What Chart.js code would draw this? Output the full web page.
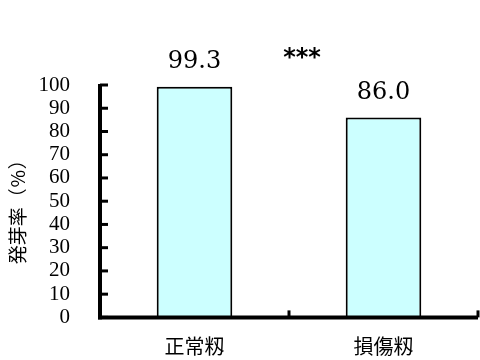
<!DOCTYPE html>
<html>
<head>
<meta charset="utf-8">
<script src="https://cdn.jsdelivr.net/npm/chart.js@4/dist/chart.umd.min.js"></script>
<style>
  html, body { margin: 0; padding: 0; background: #fff; }
  #wrap { width: 480px; height: 360px; position: relative; }
</style>
</head>
<body>
<div id="wrap"><canvas id="c"></canvas></div>
<script>
// data
const categories = ['正常籾', '損傷籾'];
const germRate = [99.3, 86.0];
const valueLabels = ['99.3', '86.0'];
const yTicks = [0, 10, 20, 30, 40, 50, 60, 70, 80, 90, 100];
const yTitle = '発芽率（%）';
const signif = '***';

// draws the thick axes with inward ticks, value labels and the significance mark
const decorations = {
  id: 'decorations',
  afterDraw(chart) {
    const ctx = chart.ctx;
    const x = chart.scales.x;
    const y = chart.scales.y;
    const left = chart.chartArea.left;
    const right = chart.chartArea.right;
    const bottom = y.getPixelForValue(0);
    const top = y.getPixelForValue(100);
    ctx.save();
    ctx.strokeStyle = '#000';
    ctx.lineCap = 'butt';

    // y axis
    ctx.lineWidth = 4;
    ctx.beginPath();
    ctx.moveTo(left, top - 1);
    ctx.lineTo(left, bottom + 2);
    ctx.stroke();
    // x axis
    ctx.beginPath();
    ctx.moveTo(left - 2, bottom);
    ctx.lineTo(right, bottom);
    ctx.stroke();

    // y ticks, pointing inward
    ctx.lineWidth = 3;
    yTicks.forEach(v => {
      const py = y.getPixelForValue(v);
      ctx.beginPath();
      ctx.moveTo(left, py);
      ctx.lineTo(left + 8, py);
      ctx.stroke();
    });
    // x ticks at category boundaries
    for (let i = 1; i <= categories.length; i++) {
      const px = x.getPixelForValue(i - 0.5);
      ctx.beginPath();
      ctx.moveTo(px, bottom);
      ctx.lineTo(px, bottom - 7);
      ctx.stroke();
    }

    // value labels above bars
    ctx.fillStyle = '#000';
    ctx.textAlign = 'center';
    ctx.textBaseline = 'middle';
    ctx.font = '24px "DejaVu Serif"';
    germRate.forEach((v, i) => {
      ctx.fillText(valueLabels[i], x.getPixelForValue(i), y.getPixelForValue(v) - 25);
    });

    // significance mark
    ctx.font = 'bold 24px "DejaVu Sans"';
    ctx.fillText(signif, x.getPixelForValue(0.5) + 13, top - 26);

    // y axis title, one glyph per cell like a vertical CJK run
    ctx.font = '19px "Noto Sans CJK JP"';
    ctx.translate(18, (top + bottom) / 2 + 6);
    ctx.rotate(-Math.PI / 2);
    const chars = Array.from(yTitle);
    const step = 19;
    chars.forEach((ch, i) => {
      ctx.fillText(ch, (i - (chars.length - 1) / 2) * step, 0);
    });
    ctx.restore();
  }
};

new Chart(document.getElementById('c'), {
  type: 'bar',
  data: {
    labels: categories,
    datasets: [{
      data: germRate,
      backgroundColor: '#ccffff',
      borderColor: '#000',
      borderWidth: 2,
      borderSkipped: 'bottom',
      categoryPercentage: 1,
      barPercentage: 0.4
    }]
  },
  options: {
    responsive: true,
    maintainAspectRatio: false,
    animation: false,
    layout: { padding: { top: 85, right: 2, left: 0, bottom: 0 } },
    plugins: {
      legend: { display: false },
      tooltip: { enabled: false }
    },
    scales: {
      x: {
        grid: { display: false, drawTicks: false },
        border: { display: false },
        ticks: {
          padding: 17,
          color: '#000',
          font: { family: '"Noto Sans CJK JP"', size: 20 }
        },
        afterFit(scale) { scale.height = 40; }
      },
      y: {
        min: 0,
        max: 100,
        grid: { display: false, drawTicks: false },
        border: { display: false },
        ticks: {
          stepSize: 10,
          autoSkip: false,
          padding: 30,
          color: '#000',
          font: { family: '"Liberation Serif"', size: 21 }
        },
        afterFit(scale) { scale.width = 100; }
      }
    }
  },
  plugins: [decorations]
});
</script>
</body>
</html>
